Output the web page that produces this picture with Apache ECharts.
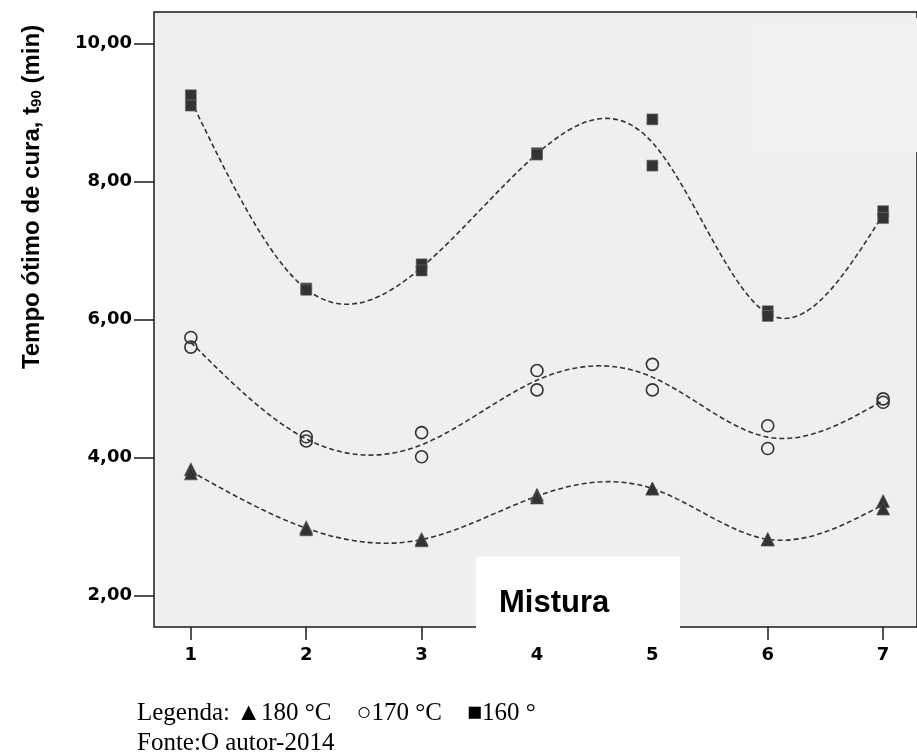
<!DOCTYPE html>
<html>
<head>
<meta charset="utf-8">
<script src="https://cdn.jsdelivr.net/npm/echarts@6/dist/echarts.min.js"></script>
<style>
html,body{margin:0;padding:0;background:#fff;}
#c{width:917px;height:756px;}
</style>
</head>
<body>
<div id="c"></div>
<script>
// Data (two replicate readings per mixture)
var misturas = [1, 2, 3, 4, 5, 6, 7];
var t160 = [[9.25, 9.10], [6.45, 6.43], [6.80, 6.71], [8.41, 8.39], [8.90, 8.23], [6.12, 6.05], [7.57, 7.47]];
var t170 = [[5.74, 5.60], [4.30, 4.24], [4.36, 4.01], [5.26, 4.98], [5.35, 4.98], [4.46, 4.13], [4.85, 4.80]];
var t180 = [[3.83, 3.77], [2.99, 2.96], [2.82, 2.80], [3.46, 3.42], [3.55, 3.55], [2.82, 2.81], [3.37, 3.26]];
var yTicks = [2, 4, 6, 8, 10];

function points(arr) {
  var out = [];
  arr.forEach(function (pair, i) {
    pair.forEach(function (v) { out.push([misturas[i], v]); });
  });
  return out;
}
function means(arr) {
  return arr.map(function (pair, i) {
    var s = 0; pair.forEach(function (v) { s += v; });
    return [misturas[i], s / pair.length];
  });
}

// natural cubic spline through the means, drawn as Bezier segments via the axis scales
function splineSlopes(pts) {
  var n = pts.length, M = new Array(n).fill(0);
  var h = [], i;
  for (i = 0; i < n - 1; i++) h.push(pts[i + 1][0] - pts[i][0]);
  var a = [], b = [], c = [], d = [];
  for (i = 1; i < n - 1; i++) {
    a.push(h[i - 1]); b.push(2 * (h[i - 1] + h[i])); c.push(h[i]);
    d.push(6 * ((pts[i + 1][1] - pts[i][1]) / h[i] - (pts[i][1] - pts[i - 1][1]) / h[i - 1]));
  }
  var m = b.length, cp = [], dp = [];
  for (i = 0; i < m; i++) {
    var den = b[i] - (i > 0 ? a[i] * cp[i - 1] : 0);
    cp.push(c[i] / den);
    dp.push((d[i] - (i > 0 ? a[i] * dp[i - 1] : 0)) / den);
  }
  var x = new Array(m);
  for (i = m - 1; i >= 0; i--) x[i] = dp[i] - (i < m - 1 ? cp[i] * x[i + 1] : 0);
  for (i = 0; i < m; i++) M[i + 1] = x[i];
  var s = [];
  for (i = 0; i < n - 1; i++) s.push((pts[i + 1][1] - pts[i][1]) / h[i] - h[i] * (2 * M[i] + M[i + 1]) / 6);
  s.push((pts[n - 1][1] - pts[n - 2][1]) / h[n - 2] + h[n - 2] * (M[n - 2] + 2 * M[n - 1]) / 6);
  return s;
}

var dark = '#333333';
function fitLine(arr) {
  var pts = means(arr);
  var slopes = splineSlopes(pts);
  return {
    type: 'custom', data: pts, z: 2, silent: true,
    renderItem: function (params, api) {
      if (params.dataIndex !== 0) return null;
      var p0 = api.coord(pts[0]);
      var path = 'M' + p0[0] + ' ' + p0[1];
      for (var i = 0; i < pts.length - 1; i++) {
        var h = pts[i + 1][0] - pts[i][0];
        var c1 = api.coord([pts[i][0] + h / 3, pts[i][1] + slopes[i] * h / 3]);
        var c2 = api.coord([pts[i + 1][0] - h / 3, pts[i + 1][1] - slopes[i + 1] * h / 3]);
        var e = api.coord(pts[i + 1]);
        path += ' C' + c1[0] + ' ' + c1[1] + ' ' + c2[0] + ' ' + c2[1] + ' ' + e[0] + ' ' + e[1];
      }
      return { type: 'path', shape: { pathData: path },
        style: { fill: 'none', stroke: dark, lineWidth: 1.6, lineDash: [5, 3] } };
    }
  };
}

var chart = echarts.init(document.getElementById('c'), null, { renderer: 'canvas' });
chart.setOption({
  animation: false,
  backgroundColor: '#ffffff',
  grid: { left: 154, top: 12, right: -3, bottom: 129, show: true, backgroundColor: '#efefef',
    borderColor: '#1a1a1a', borderWidth: 1.5 },
  xAxis: {
    type: 'value', min: 0.6806, max: 7.2935,
    axisLine: { show: false },
    splitLine: { show: false },
    axisTick: { show: true, customValues: misturas, length: 13, lineStyle: { color: '#1a1a1a', width: 1.5 } },
    axisLabel: { customValues: misturas, margin: 19, color: '#000', fontFamily: 'DejaVu Sans',
      fontWeight: 'bold', fontSize: 18 }
  },
  yAxis: {
    type: 'value', min: 1.5435, max: 10.4565,
    axisLine: { show: false },
    splitLine: { show: false },
    axisTick: { show: true, customValues: yTicks, length: 20, lineStyle: { color: '#1a1a1a', width: 1.5 } },
    axisLabel: { customValues: yTicks, margin: 22, color: '#000', fontFamily: 'DejaVu Sans',
      fontWeight: 'bold', fontSize: 18,
      formatter: function (v) { return v.toFixed(2).replace('.', ','); } }
  },
  graphic: [
    { type: 'rect', z: 1, shape: { x: 750, y: 18, width: 170, height: 134 }, style: { fill: '#f1f1f1' }, silent: true },
    { type: 'rect', z: 50, shape: { x: 476, y: 557, width: 204, height: 88 }, style: { fill: '#ffffff' }, silent: true },
    { type: 'text', z: 51, x: 499, y: 603, style: { text: 'Mistura', fill: '#000', font: 'bold 31px "Liberation Sans", Arial',
      align: 'left', verticalAlign: 'middle' } },
    { type: 'text', z: 51, x: 32, y: 197, rotation: Math.PI / 2,
      style: { text: '{a|Tempo ótimo de cura, t}{s|90}{a| (min)}', align: 'center', verticalAlign: 'middle', fill: '#000',
        rich: {
          a: { fontFamily: 'Liberation Sans', fontWeight: 'bold', fontSize: 24, fill: '#000' },
          s: { fontFamily: 'Liberation Sans', fontWeight: 'bold', fontSize: 15, lineHeight: 10, verticalAlign: 'bottom', fill: '#000' }
        } } },
    { type: 'text', x: 137, y: 713, style: { text: 'Legenda: ▲180 °C    ○170 °C    ■160 °', fill: '#000',
      font: '25px "Liberation Serif", "Times New Roman", serif', align: 'left', verticalAlign: 'middle' } },
    { type: 'text', x: 137, y: 743, style: { text: 'Fonte:O autor-2014', fill: '#000',
      font: '25px "Liberation Serif", "Times New Roman", serif', align: 'left', verticalAlign: 'middle' } }
  ],
  series: [
    fitLine(t160), fitLine(t170), fitLine(t180),
    { type: 'scatter', name: '160 °C', data: points(t160), symbol: 'rect', symbolSize: 11, z: 3,
      itemStyle: { color: dark, borderColor: '#777', borderWidth: 0.6, opacity: 1 } },
    { type: 'scatter', name: '170 °C', data: points(t170), symbol: 'circle', symbolSize: 12, z: 3,
      itemStyle: { color: 'rgba(0,0,0,0)', borderColor: dark, borderWidth: 1.6, opacity: 1 } },
    { type: 'scatter', name: '180 °C', data: points(t180), symbol: 'triangle', symbolSize: 13, z: 3,
      itemStyle: { color: dark, borderColor: '#555', borderWidth: 0.6, opacity: 1 } }
  ]
});
</script>
</body>
</html>
